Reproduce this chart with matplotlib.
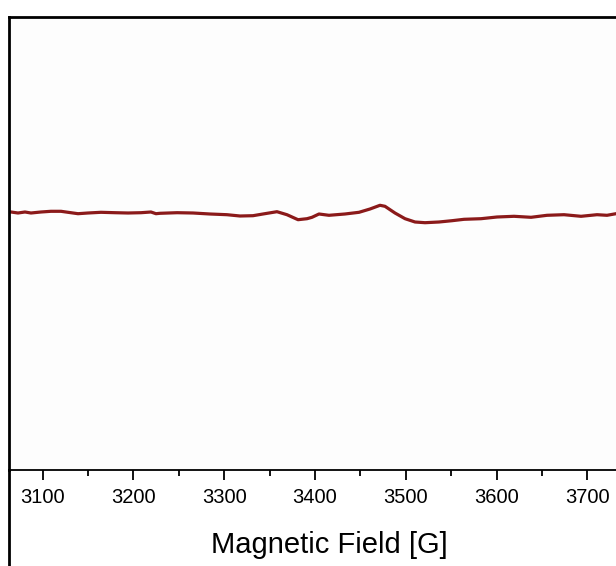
import matplotlib
matplotlib.use("Agg")
import matplotlib.pyplot as plt
from matplotlib.lines import Line2D

# EPR trace (field in G, signal in arbitrary units)
field = [3065.1, 3072.8, 3080.5, 3087.1, 3098.1, 3109.1, 3120.2, 3127.9, 3138.9,
         3149.9, 3164.2, 3179.7, 3194.0, 3208.3, 3219.3, 3224.8, 3229.2, 3248.0,
         3265.6, 3284.3, 3303.0, 3317.4, 3331.7, 3342.7, 3358.1, 3369.1, 3381.3,
         3391.2, 3396.7, 3404.4, 3415.4, 3433.0, 3448.5, 3460.6, 3471.6, 3477.1,
         3488.1, 3499.2, 3510.2, 3521.2, 3536.6, 3550.9, 3564.2, 3582.9, 3600.5,
         3619.3, 3638.0, 3655.6, 3674.3, 3693.1, 3710.7, 3721.7, 3731.6]
signal = [28.0, 27.0, 28.0, 27.0, 28.0, 28.7, 28.7, 27.7, 26.3,
          27.0, 27.7, 27.3, 27.0, 27.3, 28.0, 26.3, 26.7, 27.3,
          27.0, 26.0, 25.3, 24.0, 24.3, 26.0, 28.3, 25.3, 20.3,
          21.3, 22.7, 26.0, 24.7, 26.0, 27.7, 31.0, 34.7, 33.7,
          27.0, 21.3, 18.0, 17.3, 18.0, 19.3, 20.7, 21.3, 23.0,
          23.7, 22.7, 24.7, 25.3, 23.7, 25.3, 24.7, 26.3]

xticks_major = [3100, 3200, 3300, 3400, 3500, 3600, 3700]

W, H = 616, 566
fig = plt.figure(figsize=(W / 100, H / 100), dpi=100)
fig.patch.set_facecolor("white")

ax = fig.add_axes([9 / W, 1 - 470 / H, 1 - 9 / W, (470 - 17) / H])
ax.set_facecolor("#fdfdfd")
ax.plot(field, signal, color="#8b1a1a", lw=2.3, solid_joinstyle="round")

ax.set_xlim(3062.9, 3731.6)
ax.set_ylim(-230, 223)

ax.set_xticks(xticks_major)
ax.set_xticks([3150, 3250, 3350, 3450, 3550, 3650], minor=True)
ax.set_yticks([])
ax.tick_params(axis="x", which="major", direction="out", length=7, width=1.3,
               pad=6, labelsize=14.5)
ax.tick_params(axis="x", which="minor", direction="out", length=4, width=1.3)
for lab in ax.get_xticklabels():
    lab.set_fontfamily("Liberation Sans")

ax.spines["right"].set_visible(False)
ax.spines["top"].set_linewidth(2.0)
ax.spines["left"].set_linewidth(2.0)
ax.spines["bottom"].set_linewidth(1.3)

# axis title sits a little right of centre in the original
fig.text(329 / W, 1 - 545 / H, "Magnetic Field [G]", fontsize=21,
         family="Liberation Sans", ha="center", va="center")

# outer frame continues below the axis
fig.add_artist(Line2D([9 / W, 9 / W], [0, 1 - 470 / H], transform=fig.transFigure,
                      color="black", lw=2.0))

fig.savefig("out.png", dpi=100)
